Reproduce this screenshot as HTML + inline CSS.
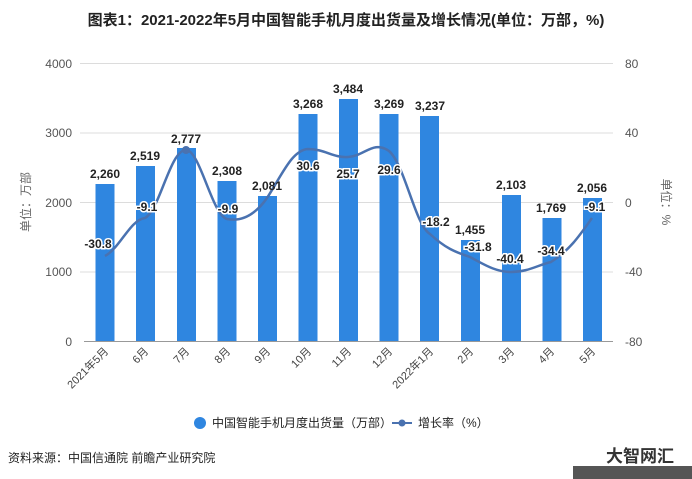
<!DOCTYPE html>
<html><head><meta charset="utf-8"><style>
body{margin:0;background:#fff;}
svg{display:block;font-family:"Liberation Sans","Noto Sans CJK SC",sans-serif;}
</style></head><body>
<svg width="692" height="479" viewBox="0 0 692 479" xmlns="http://www.w3.org/2000/svg">
<text x="346" y="25" text-anchor="middle" font-size="15" font-weight="bold" fill="#222">图表1：2021-2022年5月中国智能手机月度出货量及增长情况(单位：万部，%)</text>
<g stroke="#dcdcdc" stroke-width="1">
<line x1="80" y1="63.5" x2="613" y2="63.5"/>
<line x1="80" y1="133" x2="613" y2="133"/>
<line x1="80" y1="202.5" x2="613" y2="202.5"/>
<line x1="80" y1="272" x2="613" y2="272"/>
</g>
<line x1="84" y1="341.5" x2="613" y2="341.5" stroke="#999"/>
<g font-size="12" fill="#555" text-anchor="end">
<text x="72" y="68">4000</text><text x="72" y="137">3000</text><text x="72" y="207">2000</text><text x="72" y="276">1000</text><text x="72" y="346">0</text>
</g>
<g font-size="12" fill="#555" text-anchor="start">
<text x="625" y="68">80</text><text x="625" y="137">40</text><text x="625" y="207">0</text><text x="625" y="276">-40</text><text x="625" y="346">-80</text>
</g>
<text transform="translate(30,202) rotate(-90)" text-anchor="middle" font-size="12" fill="#666">单位：万部</text>
<text transform="translate(662,202) rotate(90)" text-anchor="middle" font-size="12" fill="#666">单位：%</text>
<g fill="#2f86e0">
<rect x="95.5" y="184" width="19" height="157"/>
<rect x="136" y="166" width="19" height="175"/>
<rect x="177" y="148" width="19" height="193"/>
<rect x="217.5" y="181" width="19" height="160"/>
<rect x="258" y="196" width="19" height="145"/>
<rect x="298.5" y="114" width="19" height="227"/>
<rect x="339" y="99" width="19" height="242"/>
<rect x="379.5" y="114" width="19" height="227"/>
<rect x="420" y="116" width="19" height="225"/>
<rect x="461" y="240" width="19" height="101"/>
<rect x="502" y="195" width="19" height="146"/>
<rect x="542.5" y="218" width="19" height="123"/>
<rect x="583" y="198" width="19" height="143"/>
</g>
<path d="M105,256 C120,248 130,220 145,218 C160,210 170,150 186,150 C200,150 212,215 227,219 C242,222 255,215 267,198 C282,175 292,150 308,149 C325,149 333,158 348,157 C365,156 373,140 389,151 C405,165 415,225 430,234 C445,248 455,252 470,257 C485,265 496,272 511,272 C528,272 538,265 551,262 C570,250 580,235 592,218" fill="none" stroke="#4a72b0" stroke-width="2.5"/>
<circle cx="186" cy="150" r="4" fill="#4a72b0"/>
<g font-size="12" font-weight="bold" fill="#222" text-anchor="middle">
<text x="105" y="178">2,260</text><text x="145" y="160">2,519</text><text x="186" y="143">2,777</text><text x="227" y="175">2,308</text><text x="267" y="190">2,081</text><text x="308" y="108">3,268</text><text x="348" y="93">3,484</text><text x="389" y="108">3,269</text><text x="430" y="110">3,237</text><text x="470" y="234">1,455</text><text x="511" y="189">2,103</text><text x="551" y="212">1,769</text><text x="592" y="192">2,056</text>
</g>
<g font-size="12" font-weight="bold" fill="#222" text-anchor="middle" stroke="#fff" stroke-width="3" paint-order="stroke">
<text x="98" y="248">-30.8</text><text x="147" y="211">-9.1</text><text x="228" y="213">-9.9</text><text x="308" y="170">30.6</text><text x="348" y="178">25.7</text><text x="389" y="174">29.6</text><text x="436" y="226">-18.2</text><text x="478" y="251">-31.8</text><text x="510" y="263">-40.4</text><text x="551" y="255">-34.4</text><text x="595" y="211">-9.1</text>
</g>
<g font-size="11" fill="#444" text-anchor="end">
<text transform="translate(109,352) rotate(-45)">2021年5月</text>
<text transform="translate(149,352) rotate(-45)">6月</text>
<text transform="translate(190,352) rotate(-45)">7月</text>
<text transform="translate(231,352) rotate(-45)">8月</text>
<text transform="translate(271,352) rotate(-45)">9月</text>
<text transform="translate(312,352) rotate(-45)">10月</text>
<text transform="translate(352,352) rotate(-45)">11月</text>
<text transform="translate(393,352) rotate(-45)">12月</text>
<text transform="translate(434,352) rotate(-45)">2022年1月</text>
<text transform="translate(474,352) rotate(-45)">2月</text>
<text transform="translate(515,352) rotate(-45)">3月</text>
<text transform="translate(555,352) rotate(-45)">4月</text>
<text transform="translate(596,352) rotate(-45)">5月</text>
</g>
<circle cx="200" cy="423" r="6" fill="#2f86e0"/>
<text x="212" y="427" font-size="12" fill="#222">中国智能手机月度出货量（万部）</text>
<line x1="392" y1="423" x2="412" y2="423" stroke="#4a72b0" stroke-width="2"/>
<circle cx="402" cy="423" r="3.5" fill="#4a72b0"/>
<text x="418" y="427" font-size="12" fill="#222">增长率（%）</text>
<text x="8" y="462" font-size="12" fill="#222">资料来源：中国信通院 前瞻产业研究院</text>
<rect x="573" y="466" width="119" height="13" fill="#555"/>
<text x="640" y="462" text-anchor="middle" font-size="17" font-weight="bold" fill="#333">大智网汇</text>
</svg>
</body></html>
